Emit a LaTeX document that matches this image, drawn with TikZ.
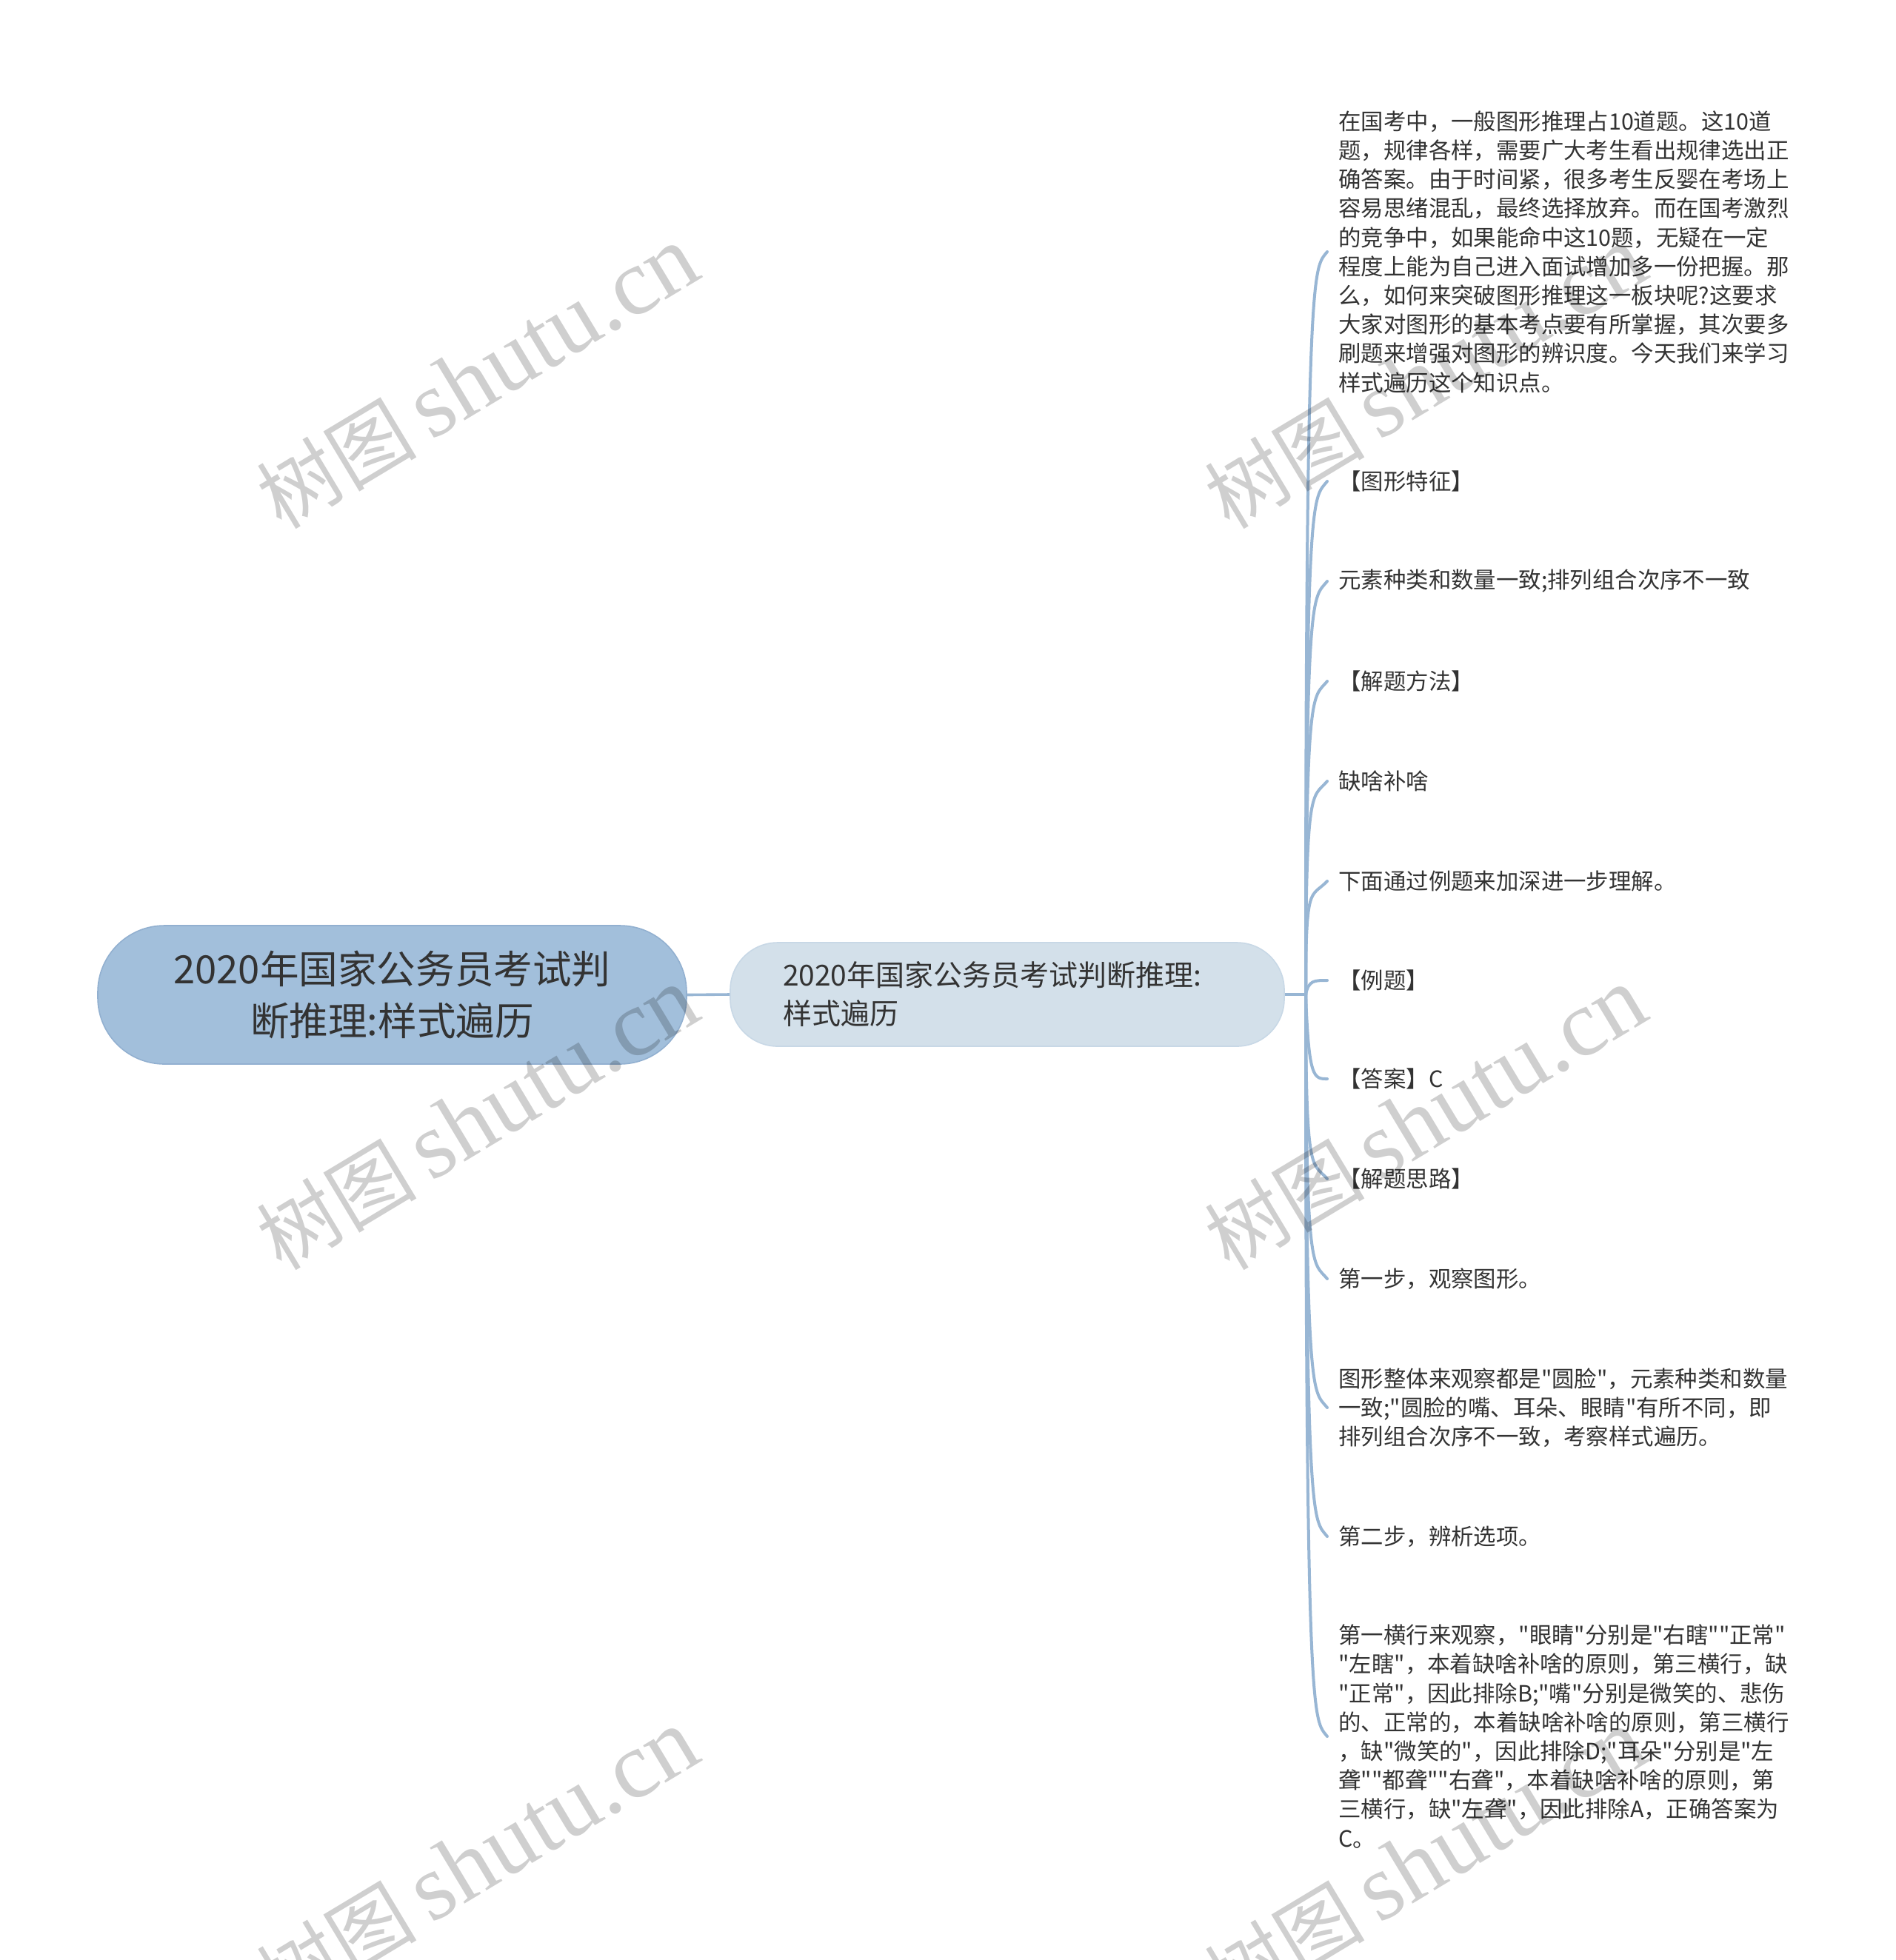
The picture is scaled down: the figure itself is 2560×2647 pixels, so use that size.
\documentclass[tikz,border=0pt]{standalone}
\usepackage{fontspec}
\setmainfont{Noto Sans CJK SC}[Ligatures=TeXOff]
\newfontfamily\wmserif{Liberation Serif}
\newfontfamily\wmcjk{Noto Sans CJK SC}
\newcommand\dq{\symbol{34}}
\usetikzlibrary{calc}
\definecolor{linec}{HTML}{98B6D4}
\definecolor{rootfill}{HTML}{A2BFDB}
\definecolor{rootdraw}{HTML}{92B0D0}
\definecolor{subfill}{HTML}{D3E0EA}
\definecolor{subdraw}{HTML}{C8D8E6}
\definecolor{textc}{HTML}{333333}
\tikzset{
  rootbox/.style={draw=rootdraw, line width=0.8pt, fill=rootfill, rounded corners=45pt,
    minimum width=397.5pt, minimum height=93.5pt, align=center, text=textc,
    font=\fontsize{26.3pt}{34.6pt}\selectfont},
  subbox/.style={draw=subdraw, line width=0.8pt, fill=subfill, rounded corners=32pt,
    minimum height=70pt, inner xsep=35.5pt, text width=303pt, align=left, text=textc,
    font=\fontsize{19.5pt}{26pt}\selectfont},
  leaf/.style={anchor=west, inner xsep=7.5pt, inner ysep=0pt, align=left, text=textc,
    font=\fontsize{15.2pt}{19.6pt}\selectfont},
  conn/.style={draw=linec, line width=1.8pt},
  branch/.style={draw=linec, line width=2pt, line cap=round},
  wmark/.style={rotate=31, text=black, opacity=0.19, inner sep=0pt}
}
\begin{document}
\begin{tikzpicture}[x=0.5pt,y=-0.5pt]
\useasboundingbox (0,0) rectangle (2560,2647);
\fill[white] (0,0) rectangle (2560,2647);

\node[rootbox] (root) at (529.5,1343.5) {2020年国家公务员考试判\\断推理:样式遍历};
\node[subbox] (sub) at (1360,1343) {2020年国家公务员考试判断推理:\\样式遍历};
\coordinate (J) at (1763,1343);

\node[leaf] (l1) at (1792,340) {在国考中，一般图形推理占10道题。这10道\\题，规律各样，需要广大考生看出规律选出正\\确答案。由于时间紧，很多考生反婴在考场上\\容易思绪混乱，最终选择放弃。而在国考激烈\\的竞争中，如果能命中这10题，无疑在一定\\程度上能为自己进入面试增加多一份把握。那\\么，如何来突破图形推理这一板块呢?这要求\\大家对图形的基本考点要有所掌握，其次要多\\刷题来增强对图形的辨识度。今天我们来学习\\样式遍历这个知识点。};
\node[leaf] (l2) at (1792,650) {【图形特征】};
\node[leaf] (l3) at (1792,785) {元素种类和数量一致;排列组合次序不一致};
\node[leaf] (l4) at (1792,920) {【解题方法】};
\node[leaf] (l5) at (1792,1055) {缺啥补啥};
\node[leaf] (l6) at (1792,1190) {下面通过例题来加深进一步理解。};
\node[leaf] (l7) at (1792,1324) {【例题】};
\node[leaf] (l8) at (1792,1457) {【答案】C};
\node[leaf] (l9) at (1792,1592) {【解题思路】};
\node[leaf] (l10) at (1792,1727) {第一步，观察图形。};
\node[leaf] (l11) at (1792,1901) {图形整体来观察都是\dq 圆脸\dq ，元素种类和数量\\一致;\dq 圆脸的嘴、耳朵、眼睛\dq 有所不同，即\\排列组合次序不一致，考察样式遍历。};
\node[leaf] (l12) at (1792,2075) {第二步，辨析选项。};
\node[leaf] (l13) at (1792,2345) {第一横行来观察，\dq 眼睛\dq 分别是\dq 右瞎\dq\dq 正常\dq\\\dq 左瞎\dq ，本着缺啥补啥的原则，第三横行，缺\\\dq 正常\dq ，因此排除B;\dq 嘴\dq 分别是微笑的、悲伤\\的、正常的，本着缺啥补啥的原则，第三横行\\，缺\dq 微笑的\dq ，因此排除D;\dq 耳朵\dq 分别是\dq 左\\聋\dq\dq 都聋\dq\dq 右聋\dq ，本着缺啥补啥的原则，第\\三横行，缺\dq 左聋\dq ，因此排除A，正确答案为\\C。};

\draw[conn] (root.east) -- (sub.west);
\draw[conn] (sub.east) -- (J);
\foreach \n in {l1,l2,l3,l4,l5,l6,l9,l10,l11,l12,l13}{
  \draw[branch] (J) .. controls (J |- \n.west) and ([xshift=-9pt]$(\n.west)!12pt!(J)$) .. (\n.west);
}
\foreach \n in {l7,l8}{
  \draw[branch] (J) .. controls ([xshift=2pt]J |- \n.west) and ([xshift=-9pt]\n.west) .. (\n.west);
}

\foreach \p in {(645,510),(645,1511),(1925,510),(1925,1511),(645,2513),(1925,2513)}{
  \node[wmark] at \p {\fontsize{54pt}{60pt}\wmcjk 树图\hspace{10pt}\fontsize{64pt}{70pt}\wmserif shutu.cn};
}
\end{tikzpicture}
\end{document}
